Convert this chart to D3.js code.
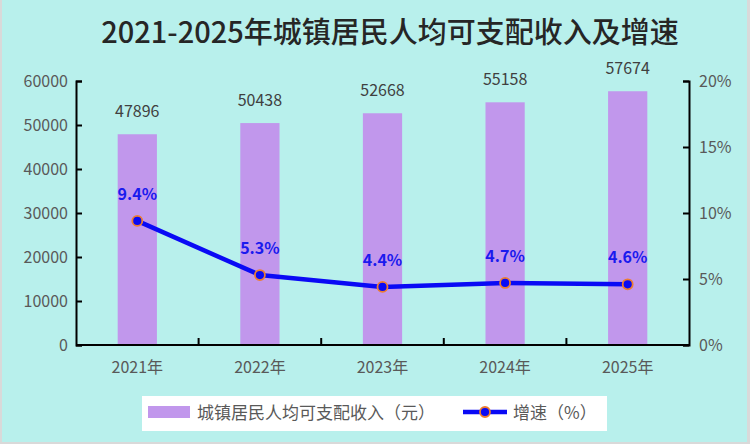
<!DOCTYPE html>
<html>
<head>
<meta charset="utf-8">
<script src="https://cdn.jsdelivr.net/npm/d3@7"></script>
<style>
  html, body { margin: 0; padding: 0; background: #d9d9d9; }
  svg { display: block; }
</style>
</head>
<body>
<div id="chart"></div>
<script>
// chart values
const years = ["2021年", "2022年", "2023年", "2024年", "2025年"];
const income = [47896, 50438, 52668, 55158, 57674];
const growth = [9.4, 5.3, 4.4, 4.7, 4.6];
const leftTicks = [0, 10000, 20000, 30000, 40000, 50000, 60000];
const rightTicks = [0, 5, 10, 15, 20];

const width = 750, height = 444;
const margin = { top: 81, right: 61, bottom: 99, left: 76 };
const font = "'Noto Sans CJK SC', 'Noto Sans', sans-serif";

const svg = d3.select("#chart").append("svg")
    .attr("width", width)
    .attr("height", height);

// background with thin grey frame
svg.append("rect")
    .attr("x", 2).attr("y", 0)
    .attr("width", width - 5).attr("height", height - 2)
    .attr("fill", "#b8f0ec");

const x = d3.scaleBand()
    .domain(years)
    .range([margin.left, width - margin.right])
    .paddingInner(0.68)
    .paddingOuter(0.34);

const yL = d3.scaleLinear()
    .domain([0, 60000])
    .range([height - margin.bottom, margin.top]);

const yR = d3.scaleLinear()
    .domain([0, 20])
    .range([height - margin.bottom, margin.top]);

// title
svg.append("text")
    .attr("x", 390)
    .attr("y", 43)
    .attr("text-anchor", "middle")
    .attr("font-family", font)
    .attr("font-size", 29)
    .attr("font-weight", 500)
    .attr("fill", "#262626")
    .text("2021-2025年城镇居民人均可支配收入及增速");

// bars
svg.append("g")
    .selectAll("rect")
    .data(income)
    .join("rect")
    .attr("x", (d, i) => x(years[i]))
    .attr("y", d => yL(d))
    .attr("width", x.bandwidth())
    .attr("height", d => yL(0) - yL(d))
    .attr("fill", "#c197ec");

// bar labels
svg.append("g")
    .attr("font-family", font)
    .attr("font-size", 16)
    .attr("fill", "#404040")
    .attr("text-anchor", "middle")
    .selectAll("text")
    .data(income)
    .join("text")
    .attr("x", (d, i) => x(years[i]) + x.bandwidth() / 2)
    .attr("y", d => yL(d) - 17)
    .text(d => d);

// axes
const axisL = svg.append("g")
    .attr("transform", `translate(${margin.left},0)`)
    .call(d3.axisRight(yL).tickValues(leftTicks).tickSize(6).tickFormat(d => d));
axisL.selectAll("text").attr("x", -8).attr("text-anchor", "end");

const axisR = svg.append("g")
    .attr("transform", `translate(${width - margin.right},0)`)
    .call(d3.axisLeft(yR).tickValues(rightTicks).tickSize(6).tickFormat(d => d + "%"));
axisR.selectAll("text").attr("x", 10).attr("text-anchor", "start");

const axisB = svg.append("g")
    .attr("transform", `translate(0,${height - margin.bottom})`)
    .call(d3.axisTop(x).tickSize(0).tickFormat(d => d));
axisB.selectAll("text").attr("y", 28);

// category separators on the x axis
const step = x.step();
svg.append("g")
    .selectAll("line")
    .data(years.slice(1))
    .join("line")
    .attr("x1", d => x(d) - step * 0.34)
    .attr("x2", d => x(d) - step * 0.34)
    .attr("y1", yL(0))
    .attr("y2", yL(0) - 7)
    .attr("stroke", "#000")
    .attr("stroke-width", 2);

[axisL, axisR, axisB].forEach(a => {
    a.selectAll(".domain").attr("stroke", "#000").attr("stroke-width", 2);
    a.selectAll(".tick line").attr("stroke", "#000").attr("stroke-width", 2);
    a.selectAll("text")
        .attr("font-family", font)
        .attr("font-size", 16)
        .attr("fill", "#595959");
});
axisB.select(".domain").attr("d", `M${margin.left},0H${width - margin.right}`);

// growth line
const cx = i => x(years[i]) + x.bandwidth() / 2;
const line = d3.line()
    .x((d, i) => cx(i))
    .y(d => yR(d));

svg.append("path")
    .datum(growth)
    .attr("d", line)
    .attr("fill", "none")
    .attr("stroke", "#0a0af5")
    .attr("stroke-width", 4.5)
    .attr("stroke-linejoin", "round");

svg.append("g")
    .selectAll("circle")
    .data(growth)
    .join("circle")
    .attr("cx", (d, i) => cx(i))
    .attr("cy", d => yR(d))
    .attr("r", 5)
    .attr("fill", "#0a0af5")
    .attr("stroke", "#ed7d31")
    .attr("stroke-width", 1.8);

svg.append("g")
    .attr("font-family", font)
    .attr("font-size", 16)
    .attr("font-weight", "bold")
    .attr("fill", "#1a1aee")
    .attr("text-anchor", "middle")
    .selectAll("text")
    .data(growth)
    .join("text")
    .attr("x", (d, i) => cx(i))
    .attr("y", d => yR(d) - 21)
    .text(d => d.toFixed(1) + "%");

// legend
const lg = svg.append("g");
lg.append("rect")
    .attr("x", 142).attr("y", 396)
    .attr("width", 465).attr("height", 35)
    .attr("fill", "#fff");
lg.append("rect")
    .attr("x", 148).attr("y", 406)
    .attr("width", 42).attr("height", 12)
    .attr("fill", "#c197ec");
lg.append("text")
    .attr("x", 197).attr("y", 419)
    .attr("font-family", font).attr("font-size", 17).attr("fill", "#595959")
    .text("城镇居民人均可支配收入（元）");
lg.append("line")
    .attr("x1", 463).attr("x2", 507)
    .attr("y1", 412).attr("y2", 412)
    .attr("stroke", "#0a0af5").attr("stroke-width", 4.5);
lg.append("circle")
    .attr("cx", 485).attr("cy", 412).attr("r", 5)
    .attr("fill", "#0a0af5").attr("stroke", "#ed7d31").attr("stroke-width", 1.8);
lg.append("text")
    .attr("x", 513).attr("y", 419)
    .attr("font-family", font).attr("font-size", 17).attr("fill", "#595959")
    .text("增速（%）");
</script>
</body>
</html>
